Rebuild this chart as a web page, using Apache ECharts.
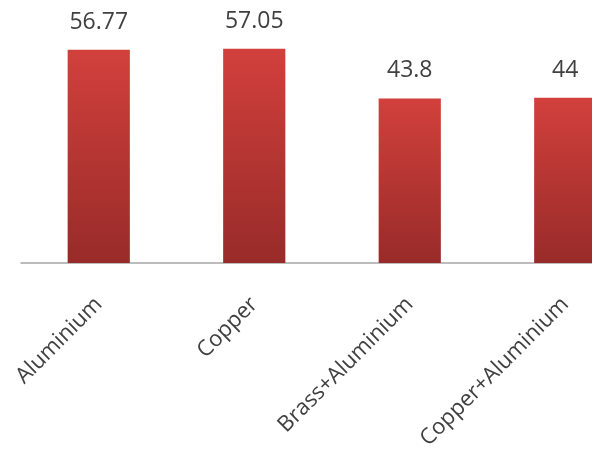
<!DOCTYPE html>
<html>
<head>
<meta charset="utf-8">
<script src="https://cdn.jsdelivr.net/npm/echarts@6/dist/echarts.min.js"></script>
<style>
  html, body { margin: 0; padding: 0; background: #fff; }
  #main { width: 592px; height: 450px; }
</style>
</head>
<body>
<div id="main"></div>
<script>
  // data
  var categories = ['Aluminium', 'Copper', 'Brass+Aluminium', 'Copper+Aluminium'];
  var values = [56.77, 57.05, 43.8, 44];

  var myChart = echarts.init(document.getElementById('main'));

  var option = {
    animation: false,
    grid: {
      left: 21,
      width: 622,
      top: 0,
      bottom: 187,
      outerBoundsMode: 'none'
    },
    xAxis: {
      type: 'category',
      data: categories,
      axisLine: { lineStyle: { color: '#a6a6a6', width: 1.5 } },
      axisTick: { show: false },
      axisLabel: {
        rotate: 45,
        margin: 38,
        interval: 0,
        color: '#404040',
        fontFamily: 'Open Sans',
        fontSize: 22
      }
    },
    yAxis: {
      type: 'value',
      min: 0,
      max: 70,
      show: false
    },
    series: [{
      type: 'bar',
      data: values,
      barWidth: '40%',
      itemStyle: {
        color: new echarts.graphic.LinearGradient(0, 0, 0, 1, [
          { offset: 0, color: '#d2403c' },
          { offset: 1, color: '#982b29' }
        ])
      },
      label: {
        show: true,
        position: 'top',
        distance: 16,
        color: '#404040',
        fontFamily: 'Open Sans',
        fontSize: 23
      }
    }]
  };

  myChart.setOption(option);
</script>
</body>
</html>
